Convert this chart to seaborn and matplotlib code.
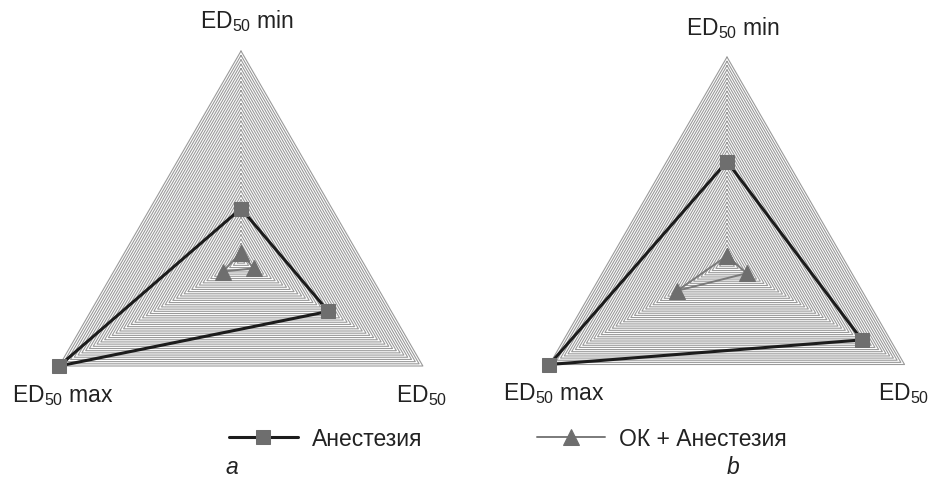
import numpy as np
import pandas as pd
import matplotlib.pyplot as plt
import seaborn as sns

# Axis names of the radar (top, bottom-right, bottom-left)
axis_labels = ['ED$_{50}$ min', 'ED$_{50}$', 'ED$_{50}$ max']

# Values as a share of the outer ring
anest_a = [0.25, 0.48, 1.0]
ok_a = [0.04, 0.07, 0.10]
anest_b = [0.49, 0.76, 1.0]
ok_b = [0.03, 0.11, 0.28]

series_names = ['Анестезия', 'ОК + Анестезия']
panel_letters = ['a', 'b']
n_rings = 48

sns.set_style("white")
plt.rcParams['font.family'] = ['Liberation Sans', 'DejaVu Sans']
plt.rcParams['mathtext.fontset'] = 'custom'
plt.rcParams['mathtext.rm'] = 'Liberation Sans'
plt.rcParams['mathtext.it'] = 'Liberation Sans:italic'

FS = 16.5
TXT = '#222222'
angles = np.deg2rad([90, -30, 210])


def to_xy(vals):
    r = np.append(vals, vals[0])
    th = np.append(angles, angles[0])
    return pd.DataFrame({'x': r * np.cos(th), 'y': r * np.sin(th)})


def radar(ax, anest, ok):
    # concentric triangular grid
    for lvl in np.linspace(1.0 / n_rings, 1.0, n_rings):
        g = to_xy([lvl] * 3)
        ax.plot(g['x'], g['y'], color='#9a9a9a', lw=0.8, zorder=1)

    sns.lineplot(data=to_xy(ok), x='x', y='y', sort=False, estimator=None, ax=ax,
                 color='#7a7a7a', lw=1.4, marker='^', markersize=11,
                 markerfacecolor='#6e6e6e', markeredgecolor='#6e6e6e',
                 label=series_names[1], zorder=3)
    sns.lineplot(data=to_xy(anest), x='x', y='y', sort=False, estimator=None, ax=ax,
                 color='#1c1c1c', lw=2.2, marker='s', markersize=10,
                 markerfacecolor='#6e6e6e', markeredgecolor='#6e6e6e',
                 label=series_names[0], zorder=4)

    vx, vy = np.cos(angles), np.sin(angles)
    ax.text(vx[0] + 0.03, vy[0] + 0.145, axis_labels[0], ha='center', va='center',
            fontsize=FS, color=TXT)
    ax.text(vx[1] - 0.13, vy[1] - 0.135, axis_labels[1], ha='left', va='center',
            fontsize=FS, color=TXT)
    ax.text(vx[2] - 0.225, vy[2] - 0.135, axis_labels[2], ha='left', va='center',
            fontsize=FS, color=TXT)

    ax.set_xlim(-1.25, 1.25)
    ax.set_ylim(-1.25, 1.25)
    ax.axis('off')
    if ax.get_legend() is not None:
        ax.get_legend().remove()


fig = plt.figure(figsize=(9.33, 4.81), dpi=100)

W, H = 933, 481
panels = [(241, 262, 210, anest_a, ok_a), (727, 263, 205, anest_b, ok_b)]
axes = []
for cx, cy, R, an, ok in panels:
    h = 1.25 * R
    ax = fig.add_axes([(cx - h) / W, (H - cy - h) / H, 2 * h / W, 2 * h / H])
    ax.patch.set_alpha(0)
    radar(ax, an, ok)
    axes.append(ax)

fig.text(232 / W, 1 - 468 / H, panel_letters[0], ha='center', va='center',
         fontsize=FS, style='italic', color=TXT)
fig.text(733 / W, 1 - 468 / H, panel_letters[1], ha='center', va='center',
         fontsize=FS, style='italic', color=TXT)

handles, labels = axes[0].get_legend_handles_labels()
order = [labels.index(n) for n in series_names]
fig.legend([handles[i] for i in order], [labels[i] for i in order],
           loc='center', bbox_to_anchor=(508 / W, 1 - 440 / H), ncol=2,
           frameon=False, fontsize=FS, handlelength=3.0, columnspacing=5.0,
           handletextpad=0.6, labelcolor=TXT)

fig.savefig('out.png', dpi=100)
